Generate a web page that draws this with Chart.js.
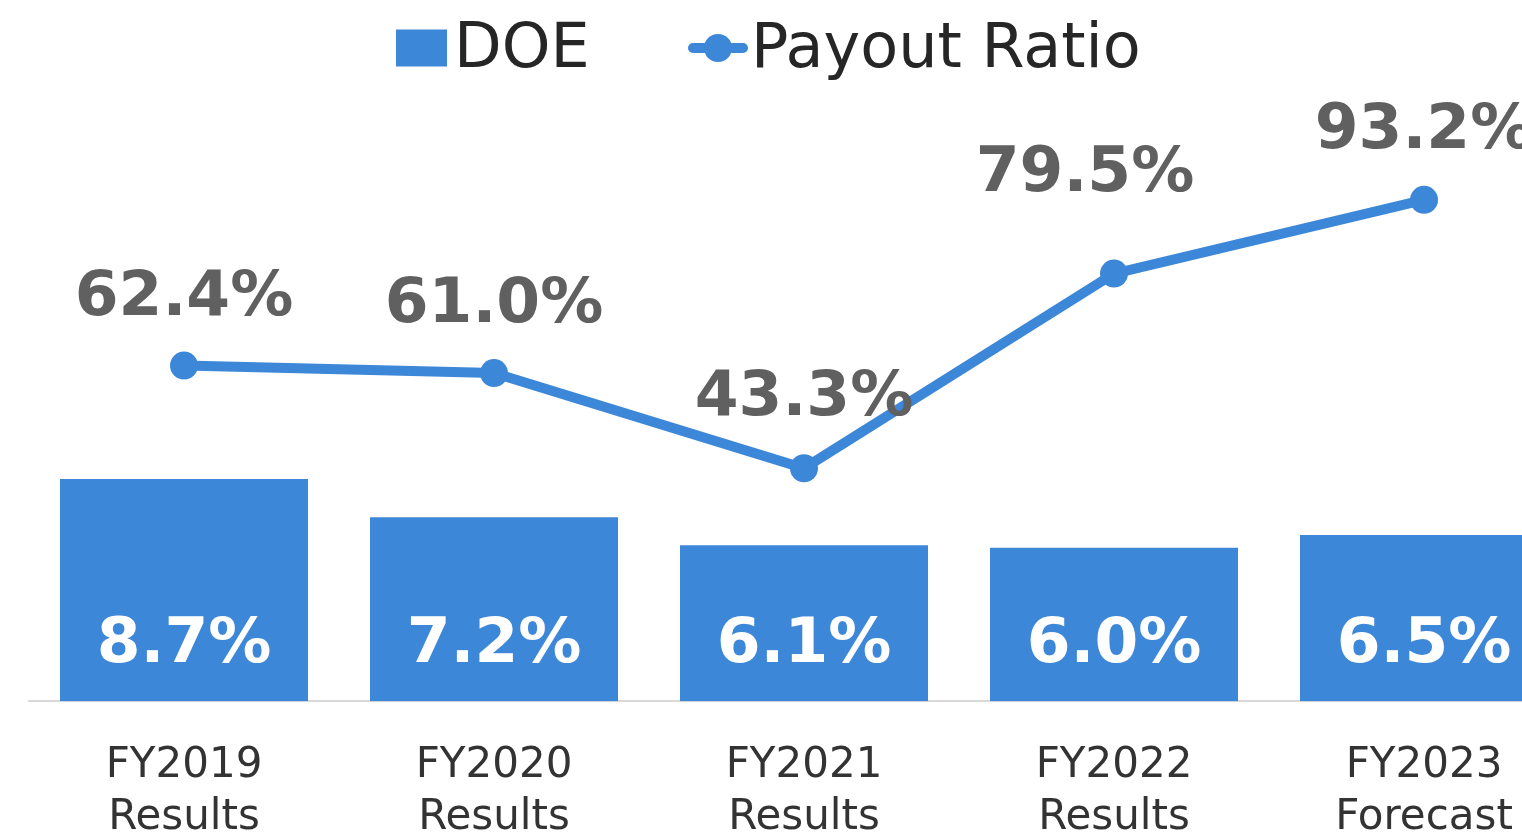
<!DOCTYPE html>
<html>
<head>
<meta charset="utf-8">
<script src="https://cdn.jsdelivr.net/npm/chart.js@4"></script>
<style>
  html, body { margin: 0; padding: 0; background: #fff; overflow: hidden; }
  #wrap { width: 1600px; height: 883px; position: relative; }
</style>
</head>
<body>
<div id="wrap"><canvas id="doeChart"></canvas></div>
<script>
const years = [["FY2019", "Results"], ["FY2020", "Results"], ["FY2021", "Results"], ["FY2022", "Results"], ["FY2023", "Forecast"]];
const doeValues = [8.7, 7.2, 6.1, 6.0, 6.5];
const payoutValues = [62.4, 61.0, 43.3, 79.5, 93.2];

const BLUE = "#3C87D8";
const FONT = "'DejaVu Sans', Verdana, sans-serif";

// value labels + legend drawn by hand so spacing matches
const labelsPlugin = {
  id: "valueLabels",
  afterDatasetsDraw(chart) {
    const ctx = chart.ctx;
    ctx.save();
    ctx.textAlign = "center";
    ctx.textBaseline = "middle";
    ctx.font = "bold 63px " + FONT;

    const bars = chart.getDatasetMeta(0).data;
    ctx.fillStyle = "#ffffff";
    bars.forEach((bar, i) => {
      ctx.fillText(doeValues[i].toFixed(1) + "%", bar.x, bar.base - 56);
    });

    const pts = chart.getDatasetMeta(1).data;
    const shift = [[0, -67], [0, -67], [0, -70], [-29, -99], [0, -68]];
    ctx.fillStyle = "#606060";
    pts.forEach((p, i) => {
      ctx.fillText(payoutValues[i].toFixed(1) + "%", p.x + shift[i][0], p.y + shift[i][1]);
    });
    ctx.restore();
  },
  afterDraw(chart) {
    const ctx = chart.ctx;
    ctx.save();
    const cy = 48;
    ctx.fillStyle = BLUE;
    ctx.fillRect(396, cy - 18.5, 51, 37);
    ctx.strokeStyle = BLUE;
    ctx.lineWidth = 10;
    ctx.lineCap = "round";
    ctx.beginPath();
    ctx.moveTo(693, cy);
    ctx.lineTo(743, cy);
    ctx.stroke();
    ctx.beginPath();
    ctx.arc(718, cy, 14, 0, Math.PI * 2);
    ctx.fill();
    ctx.fillStyle = "#262626";
    ctx.font = "62px " + FONT;
    ctx.textBaseline = "middle";
    ctx.textAlign = "left";
    ctx.fillText("DOE", 454, cy + 3);
    ctx.fillText("Payout Ratio", 751, cy + 3);
    ctx.restore();
  }
};

new Chart(document.getElementById("doeChart").getContext("2d"), {
  type: "bar",
  data: {
    labels: years,
    datasets: [
      {
        label: "DOE",
        data: doeValues,
        backgroundColor: BLUE,
        yAxisID: "y",
        categoryPercentage: 1,
        barPercentage: 0.8,
        order: 1,
      },
      {
        type: "line",
        label: "Payout Ratio",
        data: payoutValues,
        borderColor: BLUE,
        backgroundColor: BLUE,
        borderWidth: 10,
        pointRadius: 14,
        pointHoverRadius: 14,
        pointBorderWidth: 0,
        yAxisID: "y1",
        order: 0,
      },
    ],
  },
  options: {
    responsive: true,
    maintainAspectRatio: false,
    animation: false,
    layout: { padding: { top: 88, left: 29, right: 21, bottom: 0 } },
    plugins: {
      legend: { display: false },
      tooltip: { enabled: false },
    },
    scales: {
      x: {
        offset: true,
        grid: { display: false, drawTicks: false },
        border: { display: true, color: "#D9D9D9", width: 2 },
        ticks: {
          color: "#333333",
          padding: 38,
          font: { family: FONT, size: 42, lineHeight: 1.26 },
          maxRotation: 0,
          autoSkip: false,
        },
      },
      y: { display: false, min: 0, max: 24 },
      y1: { display: false, min: 0, max: 114 },
    },
  },
  plugins: [labelsPlugin],
});
</script>
</body>
</html>
